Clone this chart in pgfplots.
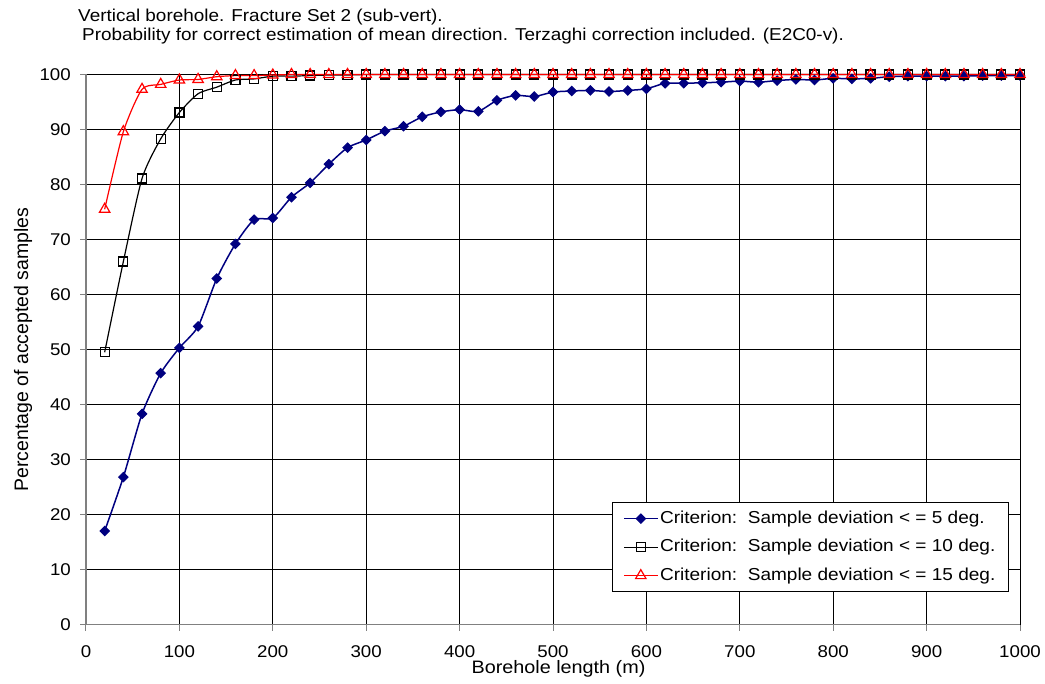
\documentclass[border=0pt]{standalone}
\usepackage{fontspec}
\setmainfont{Liberation Sans}[FakeStretch=1.1]
\newfontfamily\uprightlabel{Liberation Sans}
\usepackage{pgfplots}
\usepackage{pgfplotstable}
\pgfplotsset{compat=1.18}
\definecolor{navyblue}{RGB}{0,0,128}
\definecolor{axisgray}{RGB}{128,128,128}

% Percentage of accepted samples versus borehole length
\pgfplotstableread{
len  p
20   17.0
40   26.8
60   38.3
80   45.7
100  50.3
120  54.2
140  62.9
160  69.2
180  73.6
200  73.9
220  77.7
240  80.3
260  83.7
280  86.7
300  88.1
320  89.7
340  90.6
360  92.3
380  93.2
400  93.6
420  93.3
440  95.3
460  96.2
480  96.0
500  96.8
520  97.0
540  97.1
560  96.9
580  97.1
600  97.4
620  98.4
640  98.4
660  98.5
680  98.6
700  98.8
720  98.6
740  98.9
760  99.1
780  99.0
800  99.3
820  99.2
840  99.3
860  99.6
880  99.7
900  99.7
920  99.7
940  99.7
960  99.8
980  99.8
1000 99.8
}\critfive

\pgfplotstableread{
len  p
20   49.5
40   66.0
60   81.1
80   88.3
100  93.1
120  96.5
140  97.7
160  99.0
180  99.2
200  99.7
220  99.7
240  99.8
260  99.9
280  99.9
300  100
320  100
340  100
360  100
380  100
400  100
420  100
440  100
460  100
480  100
500  100
520  100
540  100
560  100
580  100
600  100
620  100
640  100
660  100
680  100
700  100
720  100
740  100
760  100
780  100
800  100
820  100
840  100
860  100
880  100
900  100
920  100
940  100
960  100
980  100
1000 100
}\critten

\pgfplotstableread{
len  p
20   75.5
40   89.6
60   97.3
80   98.2
100  99.0
120  99.1
140  99.6
160  99.8
180  99.8
200  99.9
220  100
240  100
260  100
280  100
300  100
320  100
340  100
360  100
380  100
400  100
420  100
440  100
460  100
480  100
500  100
520  100
540  100
560  100
580  100
600  100
620  100
640  100
660  100
680  100
700  100
720  100
740  100
760  100
780  100
800  100
820  100
840  100
860  100
880  100
900  100
920  100
940  100
960  100
980  100
1000 100
}\critfifteen

\begin{document}
\begin{tikzpicture}
\useasboundingbox (-86bp,-59.5bp) rectangle (959bp,624.5bp);
\begin{axis}[
  at={(0,0)}, anchor=south west,
  scale only axis, width=934bp, height=550bp,
  xmin=0, xmax=1000, ymin=0, ymax=100,
  xtick={0,100,...,1000}, ytick={0,10,...,100},
  axis x line*=bottom, axis y line*=left,
  axis line style={axisgray, line width=1.5bp, -},
  tick align=outside, major tick length=6bp,
  tick style={axisgray, line width=1bp},
  grid=major, major grid style={black, line width=0.8bp},
  clip=false,
  /pgf/number format/assume math mode=true,
  /pgf/number format/1000 sep={},
  ticklabel style={font=\fontsize{17bp}{20bp}\selectfont},
  yticklabel style={inner sep=0pt, xshift=-9bp},
  xticklabel style={inner sep=0pt, yshift=-14.5bp},
  legend cell align=left,
  legend style={at={(rel axis cs:0.988,0.059)}, anchor=south east,
    draw=black, line width=0.8bp, fill=white,
    inner xsep=11bp, inner ysep=5.25bp,
    row sep=7bp, column sep=0bp,
    font=\fontsize{17.3bp}{20bp}\selectfont,
    nodes={inner sep=2bp, text height=13.5bp, text depth=4bp}},
  legend image code/.code={%
    \draw[mark repeat=2,mark phase=2] plot coordinates {(0bp,0bp) (16.5bp,0bp) (33bp,0bp)};},
]
\addplot[navyblue, line width=1.5bp, smooth, tension=0.4,
  mark=square*, mark size=3.3bp, mark options={solid, rotate=45, fill=navyblue, line width=1bp}]
  table[x=len, y=p] {\critfive};
\addlegendentry{Criterion:\ \ Sample deviation < = 5 deg.\hspace{5bp}}
\addplot[black, line width=1.2bp, smooth, tension=0.4,
  mark=square, mark size=4.5bp, mark options={solid, line width=1.2bp}]
  table[x=len, y=p] {\critten};
\addlegendentry{Criterion:\ \ Sample deviation < = 10 deg.\hspace{5bp}}
\addplot[red, line width=1.2bp, smooth, tension=0.4,
  mark=triangle, mark size=6bp, mark options={solid, line width=1.2bp}]
  table[x=len, y=p] {\critfifteen};
\addlegendentry{Criterion:\ \ Sample deviation < = 15 deg.\hspace{5bp}}

\node[anchor=base west, inner sep=0pt, font=\fontsize{17.2bp}{20bp}\selectfont]
  at ([xshift=-8bp, yshift=52.7bp]rel axis cs:0,1) {Vertical borehole. Fracture Set 2 (sub-vert).};
\node[anchor=base west, inner sep=0pt, font=\fontsize{17.2bp}{20bp}\selectfont]
  at ([xshift=-4bp, yshift=34.3bp]rel axis cs:0,1) {Probability for correct estimation of mean direction. Terzaghi correction included. (E2C0-v).};
\node[anchor=base, inner sep=0pt, font=\fontsize{18bp}{20bp}\selectfont]
  at ([xshift=5.5bp, yshift=-48.5bp]rel axis cs:0.5,0) {Borehole length (m)};
\node[rotate=90, anchor=center, inner sep=0pt, font=\uprightlabel\fontsize{19.5bp}{22bp}\selectfont]
  at ([xshift=-63bp]rel axis cs:0,0.5) {Percentage of accepted samples};
\end{axis}
\end{tikzpicture}
\end{document}
